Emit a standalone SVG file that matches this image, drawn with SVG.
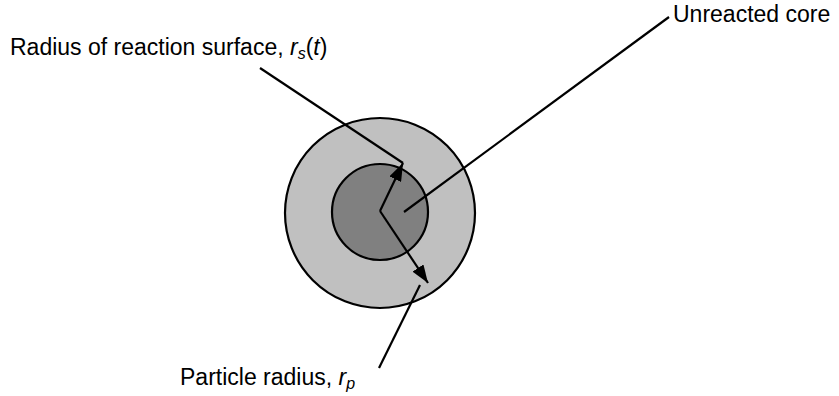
<svg xmlns="http://www.w3.org/2000/svg" width="839" height="396" viewBox="0 0 839 396">
<style>
.lbl{font-family:"Liberation Sans",Arial,sans-serif;font-size:23px;fill:#000}
.it{font-style:italic}
.ln{stroke:#000;stroke-width:2.2;fill:none}
</style>
<defs>
<marker id="ah" viewBox="0 0 18 13" refX="18" refY="6.5" markerWidth="18" markerHeight="13" markerUnits="userSpaceOnUse" orient="auto">
<path d="M0,0 L18,6.5 L0,13 Z" fill="#000"/>
</marker>
</defs>
<rect width="839" height="396" fill="#fff"/>
<g id="outer-particle">
<circle cx="380" cy="213" r="95" fill="#c0c0c0" stroke="#000" stroke-width="2.2"/>
</g>
<g id="unreacted-core">
<circle cx="380" cy="212" r="48" fill="#808080" stroke="#000" stroke-width="2.2"/>
</g>
<g id="connectors">
<path class="ln" d="M380,211 L403,163" marker-end="url(#ah)"/>
<path class="ln" d="M380,211 L428,283" marker-end="url(#ah)"/>
<path class="ln" d="M260,68 L403,163"/>
<path class="ln" d="M669,17 L404,212"/>
<path class="ln" d="M420,285 L379,368"/>
</g>
<g id="label-rs">
<text class="lbl" x="10" y="55">Radius of reaction surface, <tspan class="it">r</tspan><tspan class="it" font-size="16" dy="4">s</tspan><tspan dy="-4">(</tspan><tspan class="it">t</tspan>)</text>
</g>
<g id="label-core">
<text class="lbl" x="673" y="22">Unreacted core</text>
</g>
<g id="label-rp">
<text class="lbl" x="180" y="385">Particle radius, <tspan class="it">r</tspan><tspan class="it" font-size="16" dy="4">p</tspan></text>
</g>
</svg>
